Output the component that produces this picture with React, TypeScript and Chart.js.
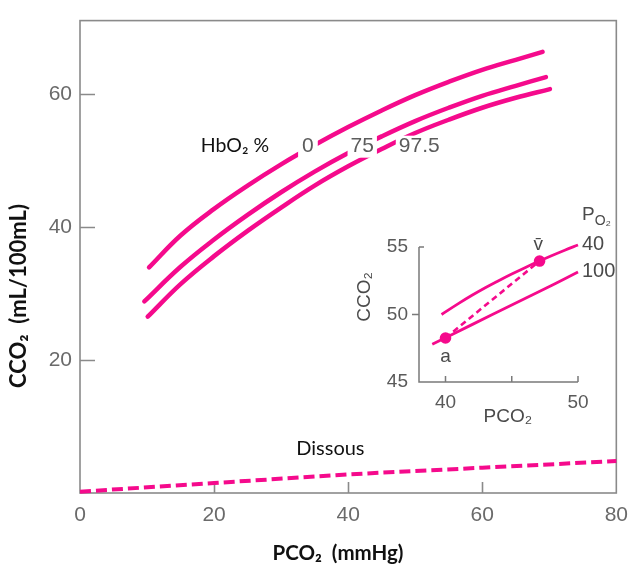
import React, { useEffect, useRef } from "react";
import { Chart, registerables } from "chart.js";

Chart.register(...registerables);

// ---------- data ----------
const xTicksMain = [0, 20, 40, 60, 80];
const yTicksMain = [20, 40, 60];
const xInwardTicks = [20, 40, 60];
const yInwardTicks = [20, 40, 60];

const hb0X = [10.3, 15, 20, 25, 30, 35, 40, 45, 50, 55, 60, 65, 69];
const hb0Y = [33.9, 38.7, 42.7, 46.2, 49.4, 52.3, 55.0, 57.5, 59.8, 61.8, 63.6, 65.1, 66.3];

const hb75X = [9.6, 15, 20, 25, 30, 35, 40, 45, 50, 55, 60, 65, 69.5];
const hb75Y = [28.8, 34.0, 38.1, 41.8, 45.2, 48.3, 51.1, 53.6, 55.9, 57.9, 59.7, 61.2, 62.5];

const hb975X = [10.1, 15, 20, 25, 30, 35, 40, 45, 50, 55, 60, 65, 70.1];
const hb975Y = [26.5, 31.4, 35.6, 39.4, 42.9, 46.2, 49.1, 51.7, 54.1, 56.1, 57.9, 59.4, 60.7];

const dissousX = [0, 20, 40, 60, 80];
const dissousY = [0.2, 1.5, 2.8, 3.8, 4.8];

const curveLabels = ["0", "75", "97.5"];

// inset
const insetXTicks = [40, 50];
const insetYTicks = [45, 50, 55];
const insetXMarks = [40, 45, 50];

const po40X = [39.7, 41, 42, 43, 44, 45, 46, 47, 48, 49, 50];
const po40Y = [50.0, 50.82, 51.42, 51.98, 52.5, 53.0, 53.47, 53.92, 54.35, 54.76, 55.15];

const po100X = [39, 42, 45, 48, 50];
const po100Y = [47.8, 49.25, 50.7, 52.15, 53.15];

const pointX = [40, 47.1]; // a, v̄
const pointY = [48.26, 53.96];
const pointNames = ["a", "v\u0304"];
const poLabels = ["40", "100"];

// ---------- style ----------
const PINK = "#f50a8c";
const AXIS = "#8a8a8a";
const GREY = "#5c5c5c";
const NUM_FONT = "'Liberation Sans', Arial, sans-serif";
const CAL_FONT = "Lato, 'Open Sans', sans-serif";

const zip = (xs: number[], ys: number[]) => xs.map((x, i) => ({ x, y: ys[i] }));

const mainDecor = {
  id: "mainDecor",
  beforeDatasetsDraw(chart: any) {
    const { ctx, chartArea: ca, scales } = chart;
    const x = scales.x, y = scales.y;
    ctx.save();
    ctx.strokeStyle = AXIS;
    ctx.lineWidth = 1.6;
    ctx.strokeRect(ca.left, ca.top, ca.right - ca.left, ca.bottom - ca.top);
    ctx.beginPath();
    yInwardTicks.forEach((v) => {
      const py = Math.round(y.getPixelForValue(v)) + 0.5;
      ctx.moveTo(ca.left, py);
      ctx.lineTo(ca.left + 15, py);
    });
    xInwardTicks.forEach((v) => {
      const px = Math.round(x.getPixelForValue(v)) + 0.5;
      ctx.moveTo(px, ca.bottom);
      ctx.lineTo(px, ca.bottom - 11);
    });
    ctx.stroke();
    ctx.restore();
  },
  afterDatasetsDraw(chart: any) {
    const { ctx, scales } = chart;
    const x = scales.x, y = scales.y;
    ctx.save();
    ctx.textBaseline = "middle";
    const lblPos = [34.0, 42.1, 50.6];
    const pads = [4, 3, 3];
    curveLabels.forEach((t, i) => {
      ctx.font = `21px ${NUM_FONT}`;
      const w = ctx.measureText(t).width;
      const cx = x.getPixelForValue(lblPos[i]);
      const cy = y.getPixelForValue(52.2);
      ctx.fillStyle = "#fff";
      const top = i === 2 ? cy - 10 : cy - 11;
      ctx.fillRect(cx - w / 2 - pads[i], top, w + 2 * pads[i], cy + 12 - top);
      ctx.fillStyle = GREY;
      ctx.textAlign = "center";
      ctx.fillText(t, cx, cy + 1);
    });
    ctx.fillStyle = "#111";
    ctx.font = `19.5px ${CAL_FONT}`;
    ctx.textAlign = "center";
    ctx.fillText("HbO\u2082 %", x.getPixelForValue(23.1), y.getPixelForValue(52.2));
    ctx.font = `20px ${CAL_FONT}`;
    ctx.fillText("Dissous", x.getPixelForValue(37.35), y.getPixelForValue(6.75));
    ctx.font = `bold 20.5px ${CAL_FONT}`;
    ctx.fillText("PCO\u2082  (mmHg)", 338, 553);
    ctx.save();
    ctx.translate(19, 296);
    ctx.rotate(-Math.PI / 2);
    ctx.font = `bold 22px ${CAL_FONT}`;
    ctx.fillText("CCO\u2082  (mL/100mL)", 0, 0);
    ctx.restore();
    ctx.restore();
  },
};

const insetDecor = {
  id: "insetDecor",
  afterDatasetsDraw(chart: any) {
    const { ctx, chartArea: ca, scales } = chart;
    const x = scales.x, y = scales.y;
    ctx.save();
    ctx.strokeStyle = "#7a7a7a";
    ctx.lineWidth = 1.5;
    ctx.beginPath();
    ctx.moveTo(ca.left, ca.top);
    ctx.lineTo(ca.left, ca.bottom);
    ctx.lineTo(ca.right, ca.bottom);
    const p55 = y.getPixelForValue(55);
    ctx.moveTo(ca.left, p55);
    ctx.lineTo(ca.left + 5, p55);
    const p50 = y.getPixelForValue(50);
    ctx.moveTo(ca.left - 7, p50);
    ctx.lineTo(ca.left, p50);
    insetXMarks.forEach((v) => {
      const px = x.getPixelForValue(v);
      ctx.moveTo(px, ca.bottom);
      ctx.lineTo(px, ca.bottom - 6);
    });
    ctx.stroke();

    ctx.fillStyle = "#4a4a4a";
    ctx.textBaseline = "middle";
    ctx.font = `20px ${NUM_FONT}`;
    ctx.textAlign = "left";
    ctx.fillText(poLabels[0], x.getPixelForValue(50.3), y.getPixelForValue(55.2));
    ctx.fillText(poLabels[1], x.getPixelForValue(50.3), y.getPixelForValue(53.15));
    const px0 = x.getPixelForValue(50.3);
    const py0 = y.getPixelForValue(57.4);
    ctx.font = `19px ${NUM_FONT}`;
    ctx.fillText("P", px0, py0);
    const pw = ctx.measureText("P").width;
    ctx.font = `14px ${NUM_FONT}`;
    ctx.fillText("O\u2082", px0 + pw, py0 + 7);
    ctx.font = `19px ${NUM_FONT}`;
    ctx.textAlign = "center";
    ctx.fillText(pointNames[0], x.getPixelForValue(40.0), y.getPixelForValue(46.9));
    ctx.fillText(pointNames[1], x.getPixelForValue(47.0), y.getPixelForValue(55.15));
    ctx.font = `19px ${NUM_FONT}`;
    ctx.fillText("PCO\u2082", x.getPixelForValue(44.7), ca.bottom + 35);
    ctx.save();
    ctx.translate(ca.left - 54, y.getPixelForValue(51.3));
    ctx.rotate(-Math.PI / 2);
    ctx.fillText("CCO\u2082", 0, 0);
    ctx.restore();
    ctx.restore();
  },
};

export default function App() {
  const mainRef = useRef<HTMLCanvasElement>(null);
  const insetRef = useRef<HTMLCanvasElement>(null);

  useEffect(() => {
    document.body.style.margin = "0";
    const curve = (xs: number[], ys: number[]) => ({
      data: zip(xs, ys),
      borderColor: PINK,
      borderWidth: 4.5,
      pointRadius: 0,
      tension: 0.4,
      borderCapStyle: "round" as const,
      clip: false as any,
    });
    const main = new Chart(mainRef.current!, {
      type: "line",
      data: {
        datasets: [
          curve(hb0X, hb0Y),
          curve(hb75X, hb75Y),
          curve(hb975X, hb975Y),
          {
            data: zip(dissousX, dissousY),
            borderColor: PINK,
            borderWidth: 4,
            borderDash: [11, 5],
            pointRadius: 0,
            tension: 0,
            clip: false as any,
          },
        ],
      },
      options: {
        animation: false,
        responsive: false,
        devicePixelRatio: 1,
        layout: { padding: { left: 0, top: 10, right: 14, bottom: 0 } },
        plugins: { legend: { display: false }, tooltip: { enabled: false } },
        scales: {
          x: {
            type: "linear",
            min: 0,
            max: 80,
            afterBuildTicks: (s: any) => {
              s.ticks = xTicksMain.map((v) => ({ value: v }));
            },
            afterFit: (s: any) => {
              s.height = 76;
            },
            grid: { display: false, drawTicks: false },
            border: { display: false },
            ticks: {
              color: "#6a6a6a",
              font: { family: NUM_FONT, size: 21 },
              padding: 10,
              maxRotation: 0,
              autoSkip: false,
            },
          },
          y: {
            type: "linear",
            min: 0,
            max: 71,
            afterBuildTicks: (s: any) => {
              s.ticks = yTicksMain.map((v) => ({ value: v }));
            },
            afterFit: (s: any) => {
              s.width = 80;
            },
            grid: { display: false, drawTicks: false },
            border: { display: false },
            ticks: {
              color: "#6a6a6a",
              font: { family: NUM_FONT, size: 21 },
              padding: 8,
              autoSkip: false,
            },
          },
        },
      },
      plugins: [mainDecor],
    });

    const inset = new Chart(insetRef.current!, {
      type: "line",
      data: {
        datasets: [
          {
            data: zip(po40X, po40Y),
            borderColor: PINK,
            borderWidth: 2.8,
            pointRadius: 0,
            tension: 0.4,
            clip: false as any,
          },
          {
            data: zip(po100X, po100Y),
            borderColor: PINK,
            borderWidth: 2.8,
            pointRadius: 0,
            tension: 0.4,
            clip: false as any,
          },
          {
            data: zip(pointX, pointY),
            borderColor: PINK,
            borderWidth: 2.6,
            borderDash: [6, 4],
            pointRadius: 4.5,
            pointBackgroundColor: PINK,
            pointBorderColor: PINK,
            tension: 0,
            clip: false as any,
          },
        ],
      },
      options: {
        animation: false,
        responsive: false,
        devicePixelRatio: 1,
        layout: { padding: { left: 0, top: 47, right: 60, bottom: 0 } },
        plugins: { legend: { display: false }, tooltip: { enabled: false } },
        scales: {
          x: {
            type: "linear",
            min: 38,
            max: 50,
            afterBuildTicks: (s: any) => {
              s.ticks = insetXTicks.map((v) => ({ value: v }));
            },
            afterFit: (s: any) => {
              s.height = 58;
            },
            grid: { display: false, drawTicks: false },
            border: { display: false },
            ticks: {
              color: "#5a5a5a",
              font: { family: NUM_FONT, size: 19 },
              padding: 9,
              maxRotation: 0,
              autoSkip: false,
            },
          },
          y: {
            type: "linear",
            min: 45,
            max: 55,
            afterBuildTicks: (s: any) => {
              s.ticks = insetYTicks.map((v) => ({ value: v }));
            },
            afterFit: (s: any) => {
              s.width = 79;
            },
            grid: { display: false, drawTicks: false },
            border: { display: false },
            ticks: {
              color: "#5a5a5a",
              font: { family: NUM_FONT, size: 19 },
              padding: 11,
              autoSkip: false,
            },
          },
        },
      },
      plugins: [insetDecor],
    });

    return () => {
      main.destroy();
      inset.destroy();
    };
  }, []);

  return (
    <div style={{ position: "relative", width: 638, height: 569, background: "#fff" }}>
      <canvas
        ref={mainRef}
        width={638}
        height={569}
        style={{ position: "absolute", left: 0, top: 0, width: 638, height: 569 }}
      />
      <canvas
        ref={insetRef}
        width={298}
        height={240}
        style={{ position: "absolute", left: 340, top: 200, width: 298, height: 240 }}
      />
    </div>
  );
}
